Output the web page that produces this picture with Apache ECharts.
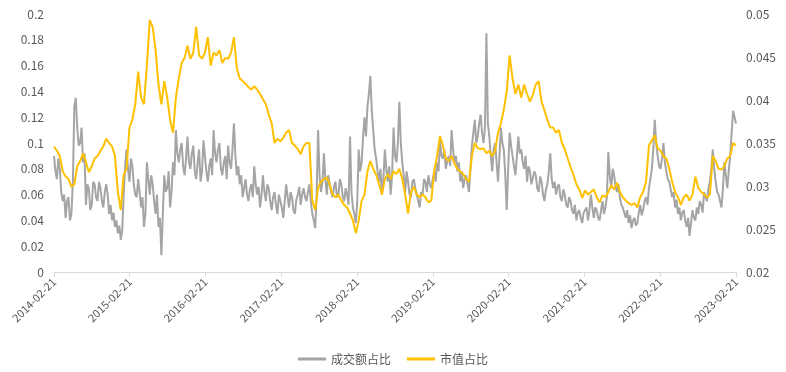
<!DOCTYPE html>
<html>
<head>
<meta charset="utf-8">
<script src="https://cdn.jsdelivr.net/npm/echarts@6/dist/echarts.min.js"></script>
<style>html,body{margin:0;padding:0;background:#fff;}#chart{width:786px;height:372px;}</style>
</head>
<body>
<div id="chart"></div>
<script>
const seriesNames = ['成交额占比', '市值占比'];
const startDate = '2014-02-21';
const endDate = '2023-02-21';
const xTickLabels = ['2014-02-21','2015-02-21','2016-02-21','2017-02-21','2018-02-21','2019-02-21','2020-02-21','2021-02-21','2022-02-21','2023-02-21'];
const leftTicks = [0, 0.02, 0.04, 0.06, 0.08, 0.1, 0.12, 0.14, 0.16, 0.18, 0.2];
const rightTicks = [0.02, 0.025, 0.03, 0.035, 0.04, 0.045, 0.05];

// 成交额占比 (left axis), sampled evenly (about weekly) from startDate to endDate
const turnoverShare = [
0.090,0.078,0.072,0.088,0.080,0.062,0.055,0.060,0.042,0.055,
0.058,0.040,0.045,0.070,0.128,0.135,0.112,0.098,0.100,0.112,
0.085,0.092,0.052,0.068,0.065,0.048,0.052,0.070,0.068,0.058,
0.055,0.070,0.065,0.055,0.050,0.062,0.068,0.060,0.045,0.052,
0.040,0.046,0.035,0.040,0.030,0.036,0.025,0.032,0.060,0.082,
0.095,0.080,0.070,0.088,0.082,0.068,0.060,0.058,0.072,0.062,
0.050,0.058,0.035,0.045,0.085,0.072,0.060,0.075,0.068,0.055,
0.045,0.060,0.035,0.042,0.013,0.045,0.075,0.062,0.065,0.078,
0.050,0.062,0.085,0.075,0.110,0.092,0.085,0.095,0.100,0.082,
0.075,0.088,0.105,0.085,0.080,0.092,0.098,0.078,0.072,0.085,
0.095,0.070,0.078,0.102,0.090,0.078,0.070,0.082,0.088,0.075,
0.110,0.092,0.085,0.095,0.100,0.080,0.075,0.085,0.090,0.072,
0.098,0.085,0.080,0.095,0.115,0.090,0.075,0.082,0.068,0.075,
0.058,0.065,0.072,0.060,0.055,0.064,0.068,0.058,0.082,0.068,
0.060,0.066,0.050,0.060,0.075,0.062,0.055,0.068,0.065,0.055,
0.048,0.058,0.062,0.052,0.045,0.060,0.055,0.050,0.042,0.055,
0.068,0.058,0.050,0.062,0.058,0.048,0.045,0.056,0.060,0.066,
0.052,0.060,0.065,0.058,0.055,0.062,0.068,0.055,0.045,0.040,
0.034,0.060,0.110,0.075,0.062,0.070,0.092,0.072,0.060,0.075,
0.068,0.062,0.058,0.066,0.070,0.058,0.060,0.072,0.068,0.058,
0.055,0.065,0.060,0.052,0.105,0.062,0.050,0.045,0.038,0.055,
0.095,0.078,0.085,0.105,0.120,0.105,0.128,0.138,0.152,0.125,
0.110,0.095,0.088,0.078,0.070,0.080,0.060,0.072,0.095,0.080,
0.070,0.082,0.060,0.075,0.112,0.090,0.085,0.100,0.132,0.100,
0.085,0.075,0.062,0.078,0.070,0.060,0.058,0.070,0.072,0.065,
0.060,0.055,0.050,0.062,0.060,0.072,0.070,0.062,0.075,0.068,
0.065,0.072,0.078,0.070,0.085,0.078,0.102,0.090,0.088,0.095,
0.080,0.086,0.090,0.082,0.110,0.095,0.085,0.090,0.078,0.085,
0.070,0.078,0.065,0.072,0.075,0.068,0.062,0.080,0.098,0.108,
0.118,0.100,0.105,0.115,0.122,0.108,0.100,0.112,0.185,0.115,
0.105,0.090,0.078,0.095,0.100,0.085,0.070,0.090,0.112,0.100,
0.095,0.075,0.048,0.080,0.108,0.098,0.090,0.082,0.075,0.090,
0.105,0.092,0.095,0.085,0.080,0.090,0.070,0.082,0.078,0.068,
0.068,0.078,0.075,0.065,0.062,0.074,0.070,0.060,0.055,0.064,
0.068,0.078,0.092,0.072,0.065,0.070,0.060,0.066,0.068,0.058,
0.055,0.064,0.060,0.052,0.050,0.058,0.055,0.048,0.045,0.052,
0.040,0.046,0.048,0.042,0.038,0.046,0.045,0.050,0.040,0.048,
0.060,0.050,0.042,0.050,0.048,0.042,0.040,0.048,0.055,0.045,
0.050,0.058,0.093,0.075,0.065,0.080,0.075,0.066,0.062,0.068,
0.058,0.052,0.050,0.046,0.042,0.048,0.038,0.044,0.034,0.040,
0.042,0.036,0.038,0.046,0.052,0.044,0.048,0.055,0.058,0.052,
0.065,0.072,0.080,0.095,0.118,0.100,0.090,0.082,0.080,0.088,
0.100,0.085,0.078,0.072,0.070,0.064,0.058,0.062,0.050,0.056,
0.045,0.050,0.040,0.046,0.048,0.040,0.035,0.042,0.028,0.038,
0.048,0.042,0.040,0.050,0.045,0.055,0.052,0.046,0.062,0.058,
0.055,0.065,0.070,0.080,0.095,0.080,0.070,0.062,0.060,0.055,
0.050,0.065,0.085,0.075,0.065,0.078,0.090,0.108,0.125,0.120,
0.115
];

// 市值占比 (right axis), sampled evenly (about every two weeks) from startDate to endDate
const marketCapShare = [
0.0346,0.0341,0.0335,0.0317,0.0311,0.0308,0.0299,0.0302,0.0323,0.0329,
0.0338,0.0328,0.0316,0.0323,0.0332,0.0335,0.0341,0.0346,0.0355,0.0350,
0.0346,0.0335,0.0293,0.0272,0.0313,0.0320,0.0368,0.0377,0.0395,0.0433,
0.0403,0.0395,0.0440,0.0493,0.0485,0.0458,0.0418,0.0395,0.0422,0.0403,
0.0377,0.0362,0.0403,0.0425,0.0443,0.0449,0.0463,0.0448,0.0455,0.0485,
0.0452,0.0448,0.0455,0.0473,0.0440,0.0455,0.0452,0.0458,0.0443,0.0449,
0.0448,0.0455,0.0473,0.0437,0.0425,0.0422,0.0419,0.0415,0.0412,0.0416,
0.0412,0.0407,0.0401,0.0395,0.0383,0.0373,0.0350,0.0355,0.0352,0.0356,
0.0362,0.0365,0.0350,0.0347,0.0343,0.0337,0.0346,0.0350,0.0350,0.0283,
0.0272,0.0298,0.0305,0.0308,0.0310,0.0302,0.0290,0.0287,0.0290,0.0283,
0.0278,0.0275,0.0268,0.0260,0.0245,0.0260,0.0283,0.0290,0.0317,0.0329,
0.0320,0.0313,0.0302,0.0290,0.0308,0.0314,0.0308,0.0317,0.0314,0.0320,
0.0308,0.0290,0.0268,0.0293,0.0299,0.0290,0.0287,0.0290,0.0287,0.0281,
0.0283,0.0317,0.0335,0.0358,0.0347,0.0332,0.0329,0.0335,0.0326,0.0320,
0.0317,0.0314,0.0308,0.0305,0.0335,0.0350,0.0344,0.0343,0.0344,0.0338,
0.0341,0.0335,0.0341,0.0362,0.0373,0.0389,0.0410,0.0452,0.0425,0.0407,
0.0418,0.0403,0.0418,0.0407,0.0398,0.0406,0.0418,0.0422,0.0398,0.0388,
0.0377,0.0368,0.0368,0.0362,0.0365,0.0350,0.0343,0.0332,0.0322,0.0313,
0.0302,0.0296,0.0286,0.0295,0.0290,0.0293,0.0296,0.0287,0.0281,0.0289,
0.0287,0.0293,0.0301,0.0296,0.0304,0.0293,0.0287,0.0283,0.0280,0.0278,
0.0280,0.0275,0.0287,0.0293,0.0305,0.0347,0.0353,0.0359,0.0344,0.0341,
0.0335,0.0332,0.0320,0.0305,0.0293,0.0287,0.0278,0.0287,0.0290,0.0283,
0.0290,0.0311,0.0298,0.0293,0.0290,0.0287,0.0290,0.0335,0.0329,0.0320,
0.0319,0.0323,0.0332,0.0335,0.0350,0.0347
];

const t0 = Date.parse(startDate);
const t1 = Date.parse(endDate);
function toPairs(values) {
  const step = (t1 - t0) / (values.length - 1);
  return values.map((v, i) => [t0 + i * step, v]);
}
const xTickValues = xTickLabels.map(d => Date.parse(d));

const textColor = '#595959';
const font = '"Noto Sans CJK SC", "Noto Sans", sans-serif';

const chart = echarts.init(document.getElementById('chart'), null, { renderer: 'canvas' });
chart.setOption({
  animation: false,
  backgroundColor: '#ffffff',
  grid: { left: 54, right: 50, top: 14, bottom: 100, containLabel: false },
  legend: {
    data: seriesNames,
    icon: 'rect',
    left: 'center',
    top: 348,
    itemWidth: 28,
    itemHeight: 3,
    itemGap: 16,
    textStyle: { color: textColor, fontSize: 12, fontFamily: font }
  },
  xAxis: {
    type: 'value',
    min: t0,
    max: t1,
    axisLine: { show: true, lineStyle: { color: '#d9d9d9', width: 1 } },
    axisTick: { show: true, customValues: xTickValues, length: 5, lineStyle: { color: '#d9d9d9' } },
    axisLabel: {
      customValues: xTickValues,
      rotate: 45,
      margin: 8,
      color: textColor,
      fontSize: 11,
      fontFamily: font,
      formatter: function (v) {
        const idx = xTickValues.indexOf(v);
        return idx >= 0 ? xTickLabels[idx] : '';
      }
    },
    splitLine: { show: false }
  },
  yAxis: [
    {
      type: 'value',
      min: leftTicks[0],
      max: leftTicks[leftTicks.length - 1],
      interval: leftTicks[1] - leftTicks[0],
      axisLine: { show: false },
      axisTick: { show: false },
      splitLine: { show: false },
      axisLabel: { color: textColor, fontSize: 12, margin: 10, fontFamily: font,
        formatter: v => String(parseFloat(v.toFixed(3))) }
    },
    {
      type: 'value',
      min: rightTicks[0],
      max: rightTicks[rightTicks.length - 1],
      interval: rightTicks[1] - rightTicks[0],
      axisLine: { show: false },
      axisTick: { show: false },
      splitLine: { show: false },
      axisLabel: { color: textColor, fontSize: 12, margin: 10, fontFamily: font,
        formatter: v => String(parseFloat(v.toFixed(3))) }
    }
  ],
  series: [
    {
      name: seriesNames[0],
      type: 'line',
      yAxisIndex: 0,
      data: toPairs(turnoverShare),
      symbol: 'none',
      lineStyle: { color: '#A5A5A5', width: 2 },
      itemStyle: { color: '#A5A5A5' }
    },
    {
      name: seriesNames[1],
      type: 'line',
      yAxisIndex: 1,
      data: toPairs(marketCapShare),
      symbol: 'none',
      lineStyle: { color: '#FFC000', width: 2 },
      itemStyle: { color: '#FFC000' }
    }
  ]
});
</script>
</body>
</html>
